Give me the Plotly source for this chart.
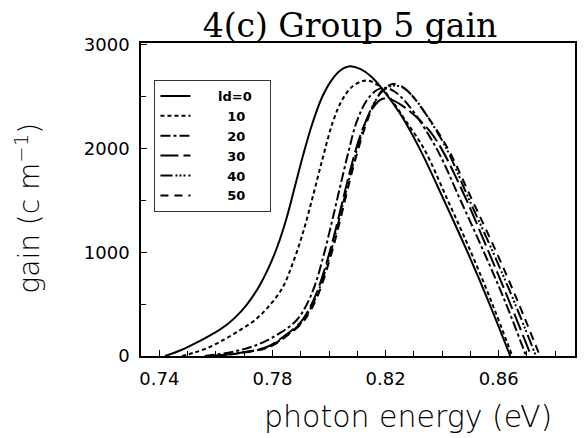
import plotly.graph_objects as go

# Photon energy (eV) and gain (cm^-1) for each well-width setting ld
ld_labels = ["ld=0", "10", "20", "30", "40", "50"]

e_ld0 = [0.742, 0.748, 0.754, 0.7595, 0.7645, 0.769, 0.7725, 0.7755, 0.7785, 0.7819,
         0.785, 0.788, 0.791, 0.794, 0.7975, 0.801, 0.804, 0.8073, 0.811, 0.815,
         0.819, 0.825, 0.832, 0.8405, 0.849, 0.8565, 0.8641]
g_ld0 = [0, 60, 140, 222, 316, 433, 553, 682, 841, 1067,
         1330, 1640, 1950, 2230, 2490, 2660, 2750, 2790, 2765, 2690,
         2566, 2340, 2000, 1510, 1000, 520, 0]

e_ld10 = [0.748, 0.752, 0.757, 0.763, 0.7686, 0.7735, 0.7781, 0.7834, 0.787, 0.7907,
          0.7945, 0.798, 0.8013, 0.8045, 0.808, 0.8115, 0.814, 0.8177, 0.8212, 0.827,
          0.8335, 0.842, 0.8502, 0.8575, 0.8648]
g_ld10 = [0, 30, 77, 160, 251, 340, 460, 650, 880, 1180,
          1560, 1930, 2250, 2460, 2590, 2645, 2653, 2600, 2500, 2270,
          2000, 1500, 1000, 520, 0]

e_ld20 = [0.756, 0.7657, 0.7744, 0.7827, 0.7886, 0.792, 0.795, 0.798, 0.801, 0.804,
          0.807, 0.8097, 0.8133, 0.8168, 0.8197, 0.823, 0.828, 0.838, 0.8465, 0.8548,
          0.8625, 0.8697]
g_ld20 = [0, 39, 106, 222, 347, 490, 680, 960, 1290, 1640,
          1980, 2250, 2460, 2560, 2585, 2550, 2420, 2000, 1500, 1000,
          510, 0]

e_ld30 = [0.759, 0.768, 0.778, 0.7837, 0.7897, 0.7925, 0.7955, 0.7985, 0.8015, 0.8045,
          0.8075, 0.8105, 0.813, 0.8155, 0.818, 0.8195, 0.8225, 0.8265, 0.831, 0.8355,
          0.8397, 0.848, 0.8565, 0.864, 0.8715]
g_ld30 = [0, 29, 87, 183, 318, 430, 600, 840, 1130, 1460,
          1790, 2080, 2260, 2390, 2465, 2480, 2465, 2400, 2300, 2170,
          2000, 1540, 1000, 510, 0]

e_ld40 = [0.7595, 0.7685, 0.7785, 0.7842, 0.7901, 0.7929, 0.7959, 0.7989, 0.8019, 0.8049,
          0.8079, 0.8109, 0.8135, 0.816, 0.8185, 0.821, 0.8235, 0.8265, 0.83, 0.8345,
          0.8415, 0.8495, 0.858, 0.8657, 0.8732]
g_ld40 = [0, 29, 87, 183, 318, 430, 600, 840, 1130, 1460,
          1790, 2080, 2290, 2440, 2540, 2590, 2605, 2580, 2490, 2320,
          2000, 1510, 1000, 510, 0]

e_ld50 = [0.76, 0.769, 0.779, 0.7846, 0.7905, 0.7933, 0.7963, 0.7993, 0.8023, 0.8053,
          0.8083, 0.8113, 0.814, 0.8165, 0.819, 0.8225, 0.8255, 0.829, 0.8335, 0.842,
          0.8505, 0.8592, 0.867, 0.8746]
g_ld50 = [0, 29, 87, 183, 318, 430, 600, 840, 1130, 1460,
          1790, 2080, 2300, 2460, 2565, 2620, 2600, 2520, 2360, 2000,
          1510, 1000, 510, 0]

energies = [e_ld0, e_ld10, e_ld20, e_ld30, e_ld40, e_ld50]
gains = [g_ld0, g_ld10, g_ld20, g_ld30, g_ld40, g_ld50]

x_ticks = [0.74, 0.78, 0.82, 0.86]
y_ticks = [0, 1000, 2000, 3000]

dashes = ["solid", "4px,3px", "10px,3px,3px,3px", "18px,5px",
          "12px,3px,2px,2px,2px,2px,2px,3px", "8px,6px"]

# legend labels padded so the numbers sit clear of the line samples
pads = [5, 7, 7, 7, 7, 7]

fig = go.Figure()
for name, pad, e, g, d in zip(ld_labels, pads, energies, gains, dashes):
    fig.add_trace(go.Scatter(
        x=e, y=g, mode="lines", name="\u00a0" * pad + name + "\u00a0\u00a0\u00a0",
        line=dict(color="black", width=2, dash=d, shape="spline", smoothing=1.0),
    ))

axis_common = dict(
    showline=True, linecolor="black", linewidth=1.5, mirror=True,
    ticks="inside", ticklen=6, tickwidth=1, tickcolor="black",
    showgrid=False, zeroline=False,
    tickfont=dict(family="DejaVu Sans", size=18, color="black"),
)

fig.update_xaxes(
    range=[0.7335, 0.887], tickvals=x_ticks, ticktext=[f"{v:.2f}" for v in x_ticks],
    minor=dict(dtick=0.01, tick0=0.74, ticks="inside", ticklen=5, tickcolor="black"),
    ticklabelstandoff=6,
    **axis_common,
)
fig.update_yaxes(
    range=[0, 3015], tickvals=y_ticks, ticktext=[str(v) for v in y_ticks],
    minor=dict(dtick=500, ticks="inside", ticklen=5, tickcolor="black"),
    ticklabelstandoff=6,
    **axis_common,
)

fig.update_layout(
    width=586, height=438,
    margin=dict(l=141, r=9, t=43, b=82),
    paper_bgcolor="white", plot_bgcolor="white",
    title=dict(text="4(c) Group 5 gain", x=350 / 586, xanchor="center",
               y=1 - 25 / 438, yanchor="middle", yref="container",
               font=dict(family="DejaVu Serif", size=33, color="black")),
    legend=dict(
        x=0.031, y=0.882, xanchor="left", yanchor="top",
        bordercolor="#333", borderwidth=1, bgcolor="white",
        font=dict(family="DejaVu Sans", size=13, color="black", weight="bold"),
        tracegroupgap=0,
    ),
    annotations=[
        dict(text="photon energy (eV)", xref="paper", yref="paper",
             x=(409 - 141) / 436, y=-(416 - 356) / 313, xanchor="center", yanchor="middle",
             showarrow=False,
             font=dict(family="DejaVu Sans", size=30, color="black", weight=200)),
        dict(text="gain (c m<sup>\u22121</sup>)", xref="paper", yref="paper",
             x=-(141 - 27) / 436, y=(356 - 208) / 313, xanchor="center", yanchor="middle",
             textangle=-90, showarrow=False,
             font=dict(family="DejaVu Sans", size=28, color="black", weight=200)),
    ],
)

fig.write_html("out.html")
